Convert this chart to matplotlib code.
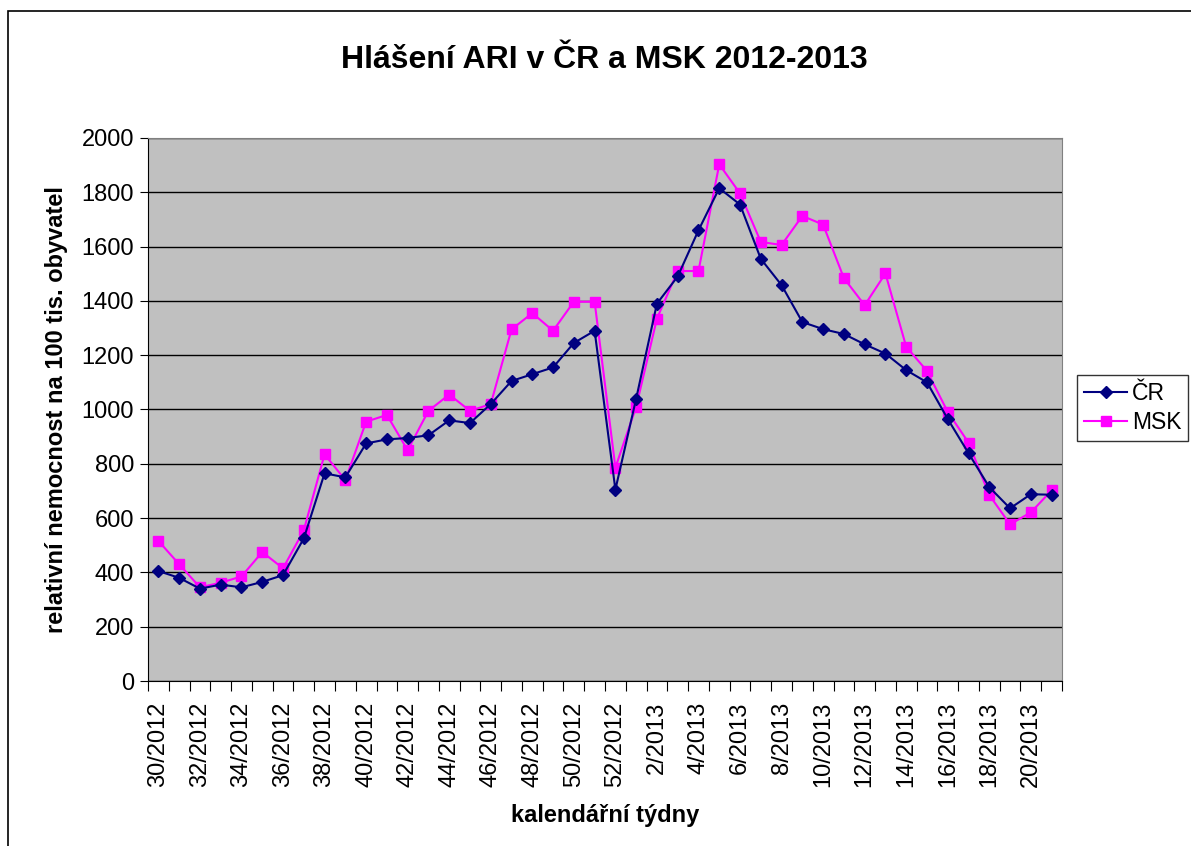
import matplotlib
matplotlib.use("Agg")
import matplotlib.pyplot as plt
from matplotlib.patches import Rectangle
import numpy as np

plt.rcParams['font.family'] = ['Liberation Sans', 'DejaVu Sans']

# calendar weeks 30/2012 .. 21/2013
weeks = [f"{w}/2012" for w in range(30, 53)] + [f"{w}/2013" for w in range(1, 22)]

cr = [405, 380, 340, 355, 345, 365, 390, 525, 765, 750, 875, 890, 895, 905,
      960, 950, 1020, 1105, 1130, 1155, 1245, 1290, 705,
      1040, 1390, 1490, 1660, 1815, 1755, 1555, 1458, 1322, 1296, 1278, 1240,
      1206, 1145, 1100, 965, 839, 714, 636, 688, 686]
msk = [516, 430, 345, 362, 385, 475, 415, 555, 835, 740, 955, 980, 850, 995,
       1055, 995, 1020, 1295, 1355, 1290, 1397, 1397, 786,
       1010, 1335, 1510, 1510, 1903, 1796, 1617, 1606, 1713, 1681, 1484, 1384,
       1501, 1231, 1142, 991, 878, 685, 577, 621, 702]

W, H = 1191, 846
fig = plt.figure(figsize=(W / 100, H / 100), dpi=100)

# outer chart frame (right and bottom edges fall outside the image)
fig.add_artist(Rectangle((8 / W, -0.05), 1.1, 1.05 - 11 / H,
                         transform=fig.transFigure, fill=False,
                         edgecolor='black', linewidth=1.2, clip_on=False))

ax = fig.add_axes([148 / W, (H - 681) / H, 914 / W, 543 / H])
ax.set_facecolor('#C0C0C0')
for s in ax.spines.values():
    s.set_color('#808080')
ax.spines['left'].set_color('black')
ax.spines['bottom'].set_color('black')

x = np.arange(len(weeks))
ax.plot(x, cr, color='#000080', marker='D', markersize=6.5, linewidth=1.5,
        label='ČR', zorder=3)
ax.plot(x, msk, color='#FF00FF', marker='s', markersize=7, linewidth=1.5,
        label='MSK', zorder=2)

ax.set_ylim(0, 2000)
ax.set_yticks(np.arange(0, 2001, 200))
ax.yaxis.grid(True, color='black', linewidth=1.0)
ax.set_axisbelow(True)
ax.tick_params(axis='y', direction='out', length=6, labelsize=17, pad=4)

ax.set_xlim(-0.5, len(weeks) - 0.5)
ax.set_xticks(np.arange(-0.5, len(weeks), 1.0))
ax.set_xticklabels([])
ax.tick_params(axis='x', which='major', direction='out', length=7)
ax.set_xticks(x[::2], minor=True)
ax.set_xticklabels(weeks[::2], minor=True, rotation=90, fontsize=17)
ax.tick_params(axis='x', which='minor', length=0, pad=15)

ax.set_ylabel('relativní nemocnost na 100 tis. obyvatel', fontsize=17,
              fontweight='bold', labelpad=10)
ax.set_xlabel('kalendářní týdny', fontsize=17, fontweight='bold', labelpad=12)

fig.text(604 / W, 1 - 60 / H, 'Hlášení ARI v ČR a MSK 2012-2013',
         ha='center', va='center', fontsize=23, fontweight='bold')

leg = fig.legend(loc='center left', bbox_to_anchor=(1077 / W, 1 - 408 / H),
                 fontsize=16.5, frameon=True, fancybox=False, borderpad=0.3,
                 handlelength=1.9, handletextpad=0.2, labelspacing=0.3,
                 borderaxespad=0)
leg.get_frame().set_edgecolor('black')
leg.get_frame().set_linewidth(1.0)

fig.savefig('out.png', dpi=100)
